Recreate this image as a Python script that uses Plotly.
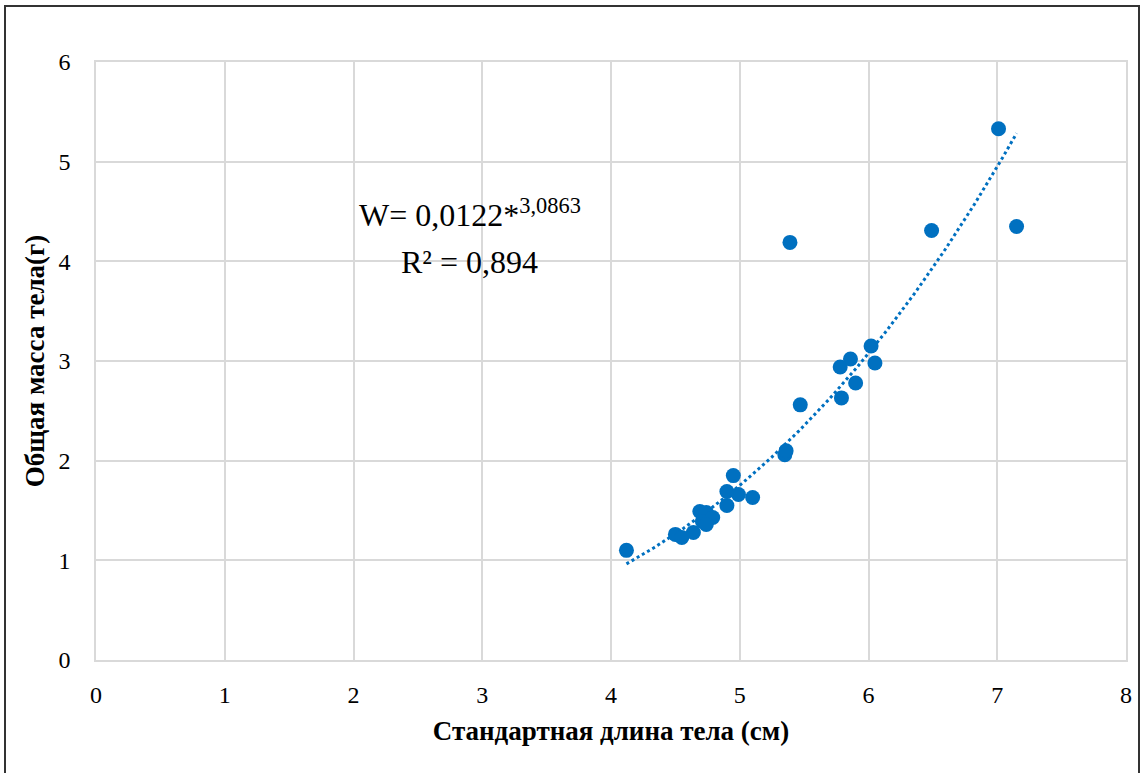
import numpy as np
import plotly.graph_objects as go

# Data
length_cm = [4.12, 4.50, 4.55, 4.64, 4.69, 4.74, 4.71, 4.79, 4.74, 4.90, 4.95, 4.90, 4.99, 5.10,
             5.35, 5.36, 5.39, 5.47, 5.78, 5.79, 5.86, 5.90, 6.02, 6.05, 6.49, 7.01, 7.15]
mass_g = [1.10, 1.26, 1.23, 1.28, 1.49, 1.48, 1.39, 1.43, 1.36, 1.69, 1.85, 1.55, 1.66, 1.63,
          2.06, 2.10, 4.19, 2.56, 2.94, 2.63, 3.02, 2.78, 3.15, 2.98, 4.31, 5.33, 4.35]

# Power trendline coefficients (from the chart's equation)
coef_a = 0.0122
coef_b = 3.0863
r_squared = "0,894"

x_ticks = [0, 1, 2, 3, 4, 5, 6, 7, 8]
y_ticks = [0, 1, 2, 3, 4, 5, 6]

blue = "#0070C0"
serif = "Liberation Serif, Times New Roman, serif"

trend_x = np.linspace(min(length_cm), max(length_cm), 200)
trend_y = coef_a * trend_x ** coef_b

fig = go.Figure()
fig.add_trace(go.Scatter(x=trend_x, y=trend_y, mode="lines",
                         line=dict(color=blue, width=3, dash="dot"),
                         hoverinfo="skip", showlegend=False))
fig.add_trace(go.Scatter(x=length_cm, y=mass_g, mode="markers",
                         marker=dict(color=blue, size=15, line=dict(width=0)),
                         showlegend=False))

fig.update_layout(
    width=1143, height=773,
    margin=dict(l=96, r=17, t=62, b=113),
    paper_bgcolor="white", plot_bgcolor="white",
    font=dict(family=serif, color="black", size=22),
    xaxis=dict(range=[0, 8], tickvals=x_ticks, showgrid=True, gridcolor="#d9d9d9",
               gridwidth=1.5, zeroline=False, showline=True, linecolor="#d9d9d9",
               linewidth=1.5, mirror=True, ticks="", ticklabelstandoff=12,
               tickfont=dict(size=24, family=serif),
               title=dict(text="<b>Стандартная длина тела (см)</b>", standoff=15,
                          font=dict(size=27, family=serif))),
    yaxis=dict(range=[0, 6], tickvals=y_ticks, showgrid=True, gridcolor="#d9d9d9",
               gridwidth=1.5, zeroline=False, showline=True, linecolor="#d9d9d9",
               linewidth=1.5, mirror=True, ticks="", ticklabelstandoff=19,
               tickfont=dict(size=24, family=serif),
               title=dict(text="<b>Общая масса тела(г)</b>", standoff=6,
                          font=dict(size=27, family=serif))),
    annotations=[
        dict(x=0.363, y=0.748, xref="paper", yref="paper", showarrow=False,
             xanchor="center", yanchor="middle",
             text="W= 0,0122*<sup>3,0863</sup>", font=dict(size=32, family=serif)),
        dict(x=0.363, y=0.666, xref="paper", yref="paper", showarrow=False,
             xanchor="center", yanchor="middle",
             text="R² = " + r_squared, font=dict(size=32, family=serif)),
    ],
    shapes=[dict(type="rect", xref="paper", yref="paper",
                 x0=-91 / 1030, x1=1 + 13 / 1030, y0=-116 / 598, y1=1 + 56 / 598,
                 line=dict(color="#333333", width=2), fillcolor="rgba(0,0,0,0)")],
)

fig.write_html("out.html", config={"displayModeBar": False},
               post_script="document.body.style.margin='0px';document.body.style.overflow='hidden';")
